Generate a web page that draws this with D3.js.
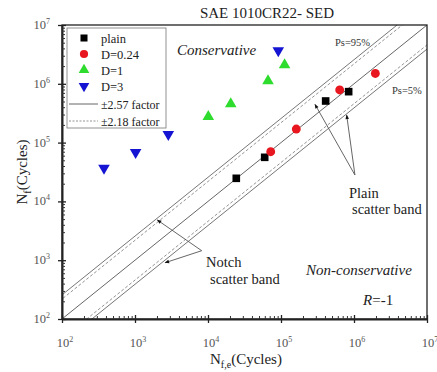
<!DOCTYPE html>
<html>
<head>
<meta charset="utf-8">
<script src="https://cdn.jsdelivr.net/npm/d3@7"></script>
<style>
  html, body { margin: 0; padding: 0; background: #fff; }
  svg { display: block; font-family: "Liberation Serif", "Times New Roman", serif; }
  svg text { font-family: "Liberation Serif", "Times New Roman", serif; }
</style>
</head>
<body>
<svg id="chart" width="437" height="372"></svg>
<script>
// Experimental vs estimated fatigue life, SAE 1010CR22 sheet (R = -1)
const seriesNames = ["plain", "D=0.24", "D=1", "D=3"];
const plainEst  = [24400, 59800, 409000, 845000];
const plainExp  = [24700, 56200, 510000, 735000];
const d024Est   = [72300, 162000, 637000, 1960000];
const d024Exp   = [70000, 170000, 785000, 1500000];
const d1Est     = [10100, 20500, 66400, 112000];
const d1Exp     = [275000, 454000, 1120000, 2090000];
const d3Est     = [376, 1020, 2860, 91800];
const d3Exp     = [37000, 68400, 138000, 3660000];
const majorTicks = [1e2, 1e3, 1e4, 1e5, 1e6, 1e7];
const tickExponents = ["2", "3", "4", "5", "6", "7"];
const bandFactors = [2.57, 2.18];   // solid / dashed scatter-band factors

const svg = d3.select("#chart");
const M = { left: 62, right: 427, top: 25, bottom: 319 };

const x = d3.scaleLog().domain([1e2, 1e7]).range([M.left, M.right]);
const y = d3.scaleLog().domain([1e2, 1e7]).range([M.bottom, M.top]);

const minorTicks = [];
for (let e = 2; e < 7; e++) for (let m = 2; m <= 9; m++) minorTicks.push(m * Math.pow(10, e));

svg.append("clipPath").attr("id", "plotClip")
  .append("rect").attr("x", M.left).attr("y", M.top)
  .attr("width", M.right - M.left).attr("height", M.bottom - M.top);

// Scatter bands: 1:1 line, plus solid (x2.57) and dashed (x2.18) limits
const bandLines = [
  { f: 1, dash: null, color: "#555" },
  { f: bandFactors[0], dash: null, color: "#666" },
  { f: 1 / bandFactors[0], dash: null, color: "#666" },
  { f: bandFactors[1], dash: "3,2", color: "#888" },
  { f: 1 / bandFactors[1], dash: "3,2", color: "#888" }
];
const gLines = svg.append("g").attr("clip-path", "url(#plotClip)");
bandLines.forEach(b => {
  gLines.append("line")
    .attr("x1", x(1e1)).attr("y1", y(1e1 * b.f))
    .attr("x2", x(1e8)).attr("y2", y(1e8 * b.f))
    .attr("stroke", b.color).attr("stroke-width", 0.9)
    .attr("stroke-dasharray", b.dash);
});

// Frame
svg.append("rect").attr("x", M.left).attr("y", M.top)
  .attr("width", M.right - M.left).attr("height", M.bottom - M.top)
  .attr("fill", "none").attr("stroke", "#222").attr("stroke-width", 1.3);

// Axes: minor ticks inside, major ticks crossing the axis line
const xAxisG = svg.append("g").attr("transform", `translate(0,${M.bottom})`)
  .call(d3.axisBottom(x).tickValues(majorTicks).tickSizeInner(4).tickSizeOuter(0).tickFormat(""));
xAxisG.selectAll(".tick line").attr("y1", -4).attr("stroke", "#222").attr("stroke-width", 1.3);
xAxisG.select(".domain").attr("stroke", "#222").attr("stroke-width", 2);
const xMinorG = svg.append("g").attr("transform", `translate(0,${M.bottom})`)
  .call(d3.axisTop(x).tickValues(minorTicks).tickSizeInner(3).tickSizeOuter(0).tickFormat(""));
xMinorG.select(".domain").remove();
xMinorG.selectAll(".tick line").attr("stroke", "#333");

const yAxisG = svg.append("g").attr("transform", `translate(${M.left},0)`)
  .call(d3.axisLeft(y).tickValues(majorTicks).tickSizeInner(4).tickSizeOuter(0).tickFormat(""));
yAxisG.selectAll(".tick line").attr("x1", 4).attr("stroke", "#222").attr("stroke-width", 1.3);
yAxisG.select(".domain").attr("stroke", "#222").attr("stroke-width", 2);
const yMinorG = svg.append("g").attr("transform", `translate(${M.left},0)`)
  .call(d3.axisRight(y).tickValues(minorTicks).tickSizeInner(3).tickSizeOuter(0).tickFormat(""));
yMinorG.select(".domain").remove();
yMinorG.selectAll(".tick line").attr("stroke", "#333");

// Tick labels 10^n
function powLabel(g, exp) {
  g.append("tspan").text("10");
  g.append("tspan").attr("dy", -5).attr("font-size", 8).text(exp);
}
majorTicks.forEach((v, i) => {
  const tx = svg.append("text").attr("x", x(v) + 3).attr("y", M.bottom + 27.5)
    .attr("text-anchor", "middle").attr("font-size", 12.5).attr("fill", "#555");
  powLabel(tx, tickExponents[i]);
  const ty = svg.append("text").attr("x", M.left - 12).attr("y", y(v) + 4)
    .attr("text-anchor", "end").attr("font-size", 12.5).attr("fill", "#555");
  powLabel(ty, tickExponents[i]);
});

// Axis titles
const xt = svg.append("text").attr("x", 246).attr("y", 364)
  .attr("text-anchor", "middle").attr("font-size", 15).attr("fill", "#222");
xt.append("tspan").text("N");
xt.append("tspan").attr("dy", 4).attr("font-size", 10).text("f,e");
xt.append("tspan").attr("dy", -4).text("(Cycles)");

const yt = svg.append("text").attr("transform", "translate(27,172) rotate(-90)")
  .attr("text-anchor", "middle").attr("font-size", 15).attr("fill", "#222");
yt.append("tspan").text("N");
yt.append("tspan").attr("dy", 4).attr("font-size", 10).text("f");
yt.append("tspan").attr("dy", -4).text("(Cycles)");

// Title
svg.append("text").attr("x", 267).attr("y", 18).attr("text-anchor", "middle")
  .attr("font-size", 15).attr("fill", "#222").text("SAE 1010CR22- SED");

// Markers
const styles = [
  { name: seriesNames[0], est: plainEst, exp: plainExp, type: d3.symbolSquare, size: 58, rot: 0, color: "#000" },
  { name: seriesNames[1], est: d024Est,  exp: d024Exp,  type: d3.symbolCircle, size: 62, rot: 0, color: "#e8161e" },
  { name: seriesNames[2], est: d1Est,    exp: d1Exp,    type: d3.symbolTriangle, size: 58, rot: 0, color: "#2edc2e" },
  { name: seriesNames[3], est: d3Est,    exp: d3Exp,    type: d3.symbolTriangle, size: 58, rot: 180, color: "#1414d2" }
];
styles.forEach(s => {
  const sym = d3.symbol().type(s.type).size(s.size);
  svg.append("g").selectAll("path").data(d3.zip(s.est, s.exp)).join("path")
    .attr("d", sym)
    .attr("transform", d => `translate(${x(d[0])},${y(d[1])}) rotate(${s.rot})`)
    .attr("fill", s.color);
});

// Legend
const lg = svg.append("g");
lg.append("rect").attr("x", 67).attr("y", 28).attr("width", 99).attr("height", 100)
  .attr("fill", "#fff").attr("stroke", "#777").attr("stroke-width", 0.8);
const legendRows = [38, 54, 70, 86];
styles.forEach((s, i) => {
  const ly = legendRows[i];
  lg.append("path").attr("d", d3.symbol().type(s.type).size(s.size * 0.85)())
    .attr("transform", `translate(84,${ly}) rotate(${s.rot})`).attr("fill", s.color);
  lg.append("text").attr("x", 101).attr("y", ly + 4.5).attr("font-size", 12.5)
    .attr("fill", "#222").text(s.name);
});
[["\u00B12.57 factor", null, "#555", 104], ["\u00B12.18 factor", "2,1.5", "#888", 121]].forEach(d => {
  const ly = d[3];
  lg.append("line").attr("x1", 69).attr("x2", 98).attr("y1", ly).attr("y2", ly)
    .attr("stroke", d[2]).attr("stroke-width", 0.9).attr("stroke-dasharray", d[1]);
  lg.append("text").attr("x", 101).attr("y", ly + 4.5).attr("font-size", 12)
    .attr("fill", "#222").text(d[0]);
});

// Region labels
svg.append("text").attr("x", 177).attr("y", 55).attr("font-size", 15)
  .attr("font-style", "italic").attr("fill", "#222").text("Conservative");
svg.append("text").attr("x", 306).attr("y", 275).attr("font-size", 15)
  .attr("font-style", "italic").attr("fill", "#222").text("Non-conservative");
const rt = svg.append("text").attr("x", 363).attr("y", 305).attr("font-size", 15).attr("fill", "#222");
rt.append("tspan").attr("font-style", "italic").text("R");
rt.append("tspan").text("=-1");
svg.append("text").attr("x", 335).attr("y", 45.5).attr("font-size", 10.5)
  .attr("fill", "#333").text("Ps=95%");
svg.append("text").attr("x", 392).attr("y", 93.5).attr("font-size", 10.5)
  .attr("fill", "#333").text("Ps=5%");

// Scatter-band callouts (anchor points in data space)
svg.append("defs").append("marker").attr("id", "arrowHead")
  .attr("viewBox", "0 0 10 10").attr("refX", 9).attr("refY", 5)
  .attr("markerWidth", 7).attr("markerHeight", 5).attr("orient", "auto")
  .append("path").attr("d", "M0,1 L10,5 L0,9 Z").attr("fill", "#111");

const callouts = [
  { from: [8.2e3, 1.45e3], to: [2.02e3, 4.83e3] },
  { from: [8.2e3, 1.45e3], to: [2.58e3, 9.06e2] },
  { from: [1.03e6, 2.81e4], to: [2.92e5, 4.48e5] },
  { from: [1.03e6, 2.81e4], to: [7.94e5, 2.94e5] }
];
callouts.forEach(c => {
  svg.append("line")
    .attr("x1", x(c.from[0])).attr("y1", y(c.from[1]))
    .attr("x2", x(c.to[0])).attr("y2", y(c.to[1]))
    .attr("stroke", "#555").attr("stroke-width", 0.9)
    .attr("marker-end", "url(#arrowHead)");
});
svg.append("text").attr("x", 206).attr("y", 267).attr("font-size", 14.5).attr("fill", "#222").text("Notch");
svg.append("text").attr("x", 210).attr("y", 284).attr("font-size", 14.5).attr("fill", "#222").text("scatter band");
svg.append("text").attr("x", 349).attr("y", 198).attr("font-size", 14.5).attr("fill", "#222").text("Plain");
svg.append("text").attr("x", 352).attr("y", 214).attr("font-size", 14.5).attr("fill", "#222").text("scatter band");
</script>
</body>
</html>
